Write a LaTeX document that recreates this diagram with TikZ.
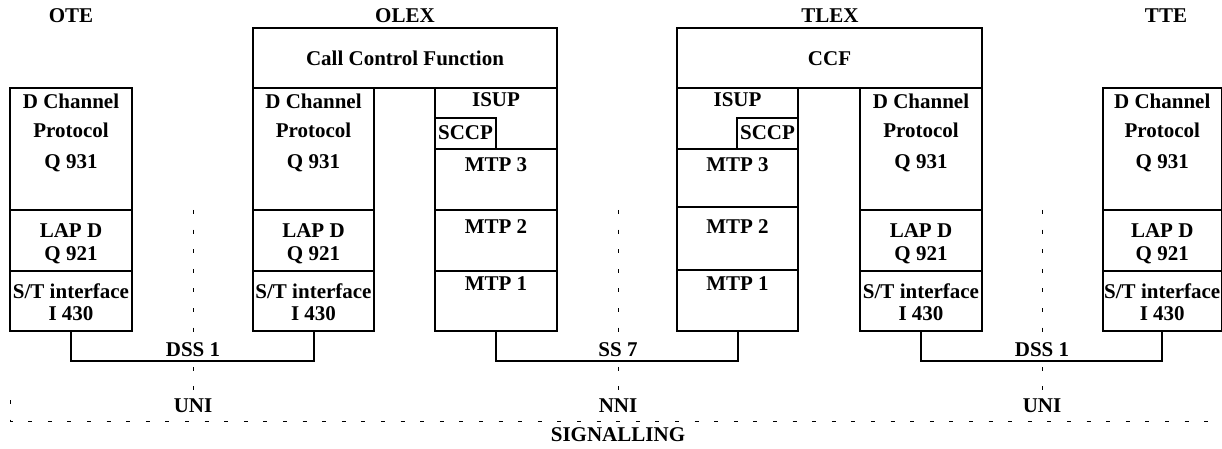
\documentclass[tikz,border=0pt]{standalone}
\usepackage{fontspec}
\setmainfont{Liberation Serif}
\usetikzlibrary{fit}
\begin{document}
\begin{tikzpicture}[x=0.5pt,y=-0.5pt,
  layer/.style={draw, line width=1pt, inner sep=0pt, outer sep=0pt},
  txt/.style={anchor=base, inner sep=0pt, font=\fontsize{10.5}{12}\selectfont\bfseries},
  tag/.style={txt, fill=white, inner xsep=1.5pt},
  link/.style={line width=1pt},
  boundary/.style={line width=0.5pt, dash pattern=on 2pt off 7.8pt}]
\useasboundingbox (0,0) rectangle (1222,449);

% interface boundaries (drawn first, labels sit on top)
\coordinate (uni-a-top) at (193,210);  \coordinate (uni-a-bot) at (193,400);
\coordinate (nni-top)   at (618,210);  \coordinate (nni-bot)   at (618,400);
\coordinate (uni-b-top) at (1042,210); \coordinate (uni-b-bot) at (1042,400);
\draw[boundary] (uni-a-top) -- (uni-a-bot);
\draw[boundary] (nni-top) -- (nni-bot);
\draw[boundary] (uni-b-top) -- (uni-b-bot);

% signalling frame
\coordinate (sig-start)  at (10,400);
\coordinate (sig-corner) at (10,421);
\coordinate (sig-end)    at (1222,421);
\draw[boundary] (sig-start) -- (sig-corner) -- (sig-end);

% ---------- OTE ----------
\node[layer, fit={(10,88) (132,210)}]  (ote-q931) {};
\node[layer, fit={(10,210) (132,271)}] (ote-q921) {};
\node[layer, fit={(10,271) (132,331)}] (ote-i430) {};

% ---------- OLEX ----------
\node[layer, fit={(253,28) (557,88)}]   (olex-ccf) {};
\node[layer, fit={(253,88) (374,210)}]  (olex-q931) {};
\node[layer, fit={(253,210) (374,271)}] (olex-q921) {};
\node[layer, fit={(253,271) (374,331)}] (olex-i430) {};
\node[layer, fit={(435,88) (557,149)}]  (olex-isup) {};
\node[layer, fit={(435,118) (496,149)}] (olex-sccp) {};
\node[layer, fit={(435,149) (557,210)}] (olex-mtp3) {};
\node[layer, fit={(435,210) (557,271)}] (olex-mtp2) {};
\node[layer, fit={(435,271) (557,331)}] (olex-mtp1) {};

% ---------- TLEX ----------
\node[layer, fit={(677,28) (982,88)}]   (tlex-ccf) {};
\node[layer, fit={(677,88) (798,149)}]  (tlex-isup) {};
\node[layer, fit={(737,118) (798,149)}] (tlex-sccp) {};
\node[layer, fit={(677,149) (798,207)}] (tlex-mtp3) {};
\node[layer, fit={(677,207) (798,270)}] (tlex-mtp2) {};
\node[layer, fit={(677,270) (798,331)}] (tlex-mtp1) {};
\node[layer, fit={(860,88) (982,210)}]  (tlex-q931) {};
\node[layer, fit={(860,210) (982,271)}] (tlex-q921) {};
\node[layer, fit={(860,271) (982,331)}] (tlex-i430) {};

% ---------- TTE ----------
\node[layer, fit={(1103,88) (1221.5,210)}]  (tte-q931) {};
\node[layer, fit={(1103,210) (1221.5,271)}] (tte-q921) {};
\node[layer, fit={(1103,271) (1221.5,331)}] (tte-i430) {};

% column headings
\node[txt] (ote)  at (71,23)   {OTE};
\node[txt] (olex) at (405,23)  {OLEX};
\node[txt] (tlex) at (830,23)  {TLEX};
\node[txt] (tte)  at (1166,23) {TTE};

\node[txt] (olex-ccf-t) at (olex-ccf.center |- 0,66) {Call Control Function};
\node[txt] (tlex-ccf-t) at (tlex-ccf.center |- 0,66) {CCF};

% ISDN access stacks
\foreach \s in {ote, olex, tlex, tte} {
  \node[txt] (\s-d1) at (\s-q931.center |- 0,109) {D Channel};
  \node[txt] (\s-d2) at (\s-q931.center |- 0,138) {Protocol};
  \node[txt] (\s-d3) at (\s-q931.center |- 0,169) {Q 931};
  \node[txt] (\s-l1) at (\s-q921.center |- 0,237) {LAP D};
  \node[txt] (\s-l2) at (\s-q921.center |- 0,260) {Q 921};
  \node[txt] (\s-p1) at (\s-i430.center |- 0,298) {S/T interface};
  \node[txt] (\s-p2) at (\s-i430.center |- 0,321) {I 430};
}

% SS7 stacks
\foreach \s in {olex, tlex} {
  \node[txt] (\s-isup-t) at (\s-isup.center |- 0,107) {ISUP};
  \node[txt] (\s-sccp-t) at (\s-sccp.center |- 0,140) {SCCP};
  \node[txt] (\s-mtp3-t) at (\s-mtp3.center |- 0,172) {MTP 3};
  \node[txt] (\s-mtp2-t) at (\s-mtp2.center |- 0,234) {MTP 2};
  \node[txt] (\s-mtp1-t) at (\s-mtp1.center |- 0,290) {MTP 1};
}

% signalling links between the stacks
\draw[link] (ote-i430.south)  -- ++(0,30) -| (olex-i430.south);
\draw[link] (olex-mtp1.south) -- ++(0,30) -| (tlex-mtp1.south);
\draw[link] (tlex-i430.south) -- ++(0,30) -| (tte-i430.south);

\node[tag] (dss1-a) at (193,356)  {DSS 1};
\node[tag] (ss7)    at (618,356)  {SS 7};
\node[tag] (dss1-b) at (1042,356) {DSS 1};

% interface names
\node[tag] (uni-a) at (193,412)  {UNI};
\node[tag] (nni)   at (618,412)  {NNI};
\node[tag] (uni-b) at (1042,412) {UNI};
\node[txt] (signalling) at (618,441) {SIGNALLING};
\end{tikzpicture}
\end{document}
